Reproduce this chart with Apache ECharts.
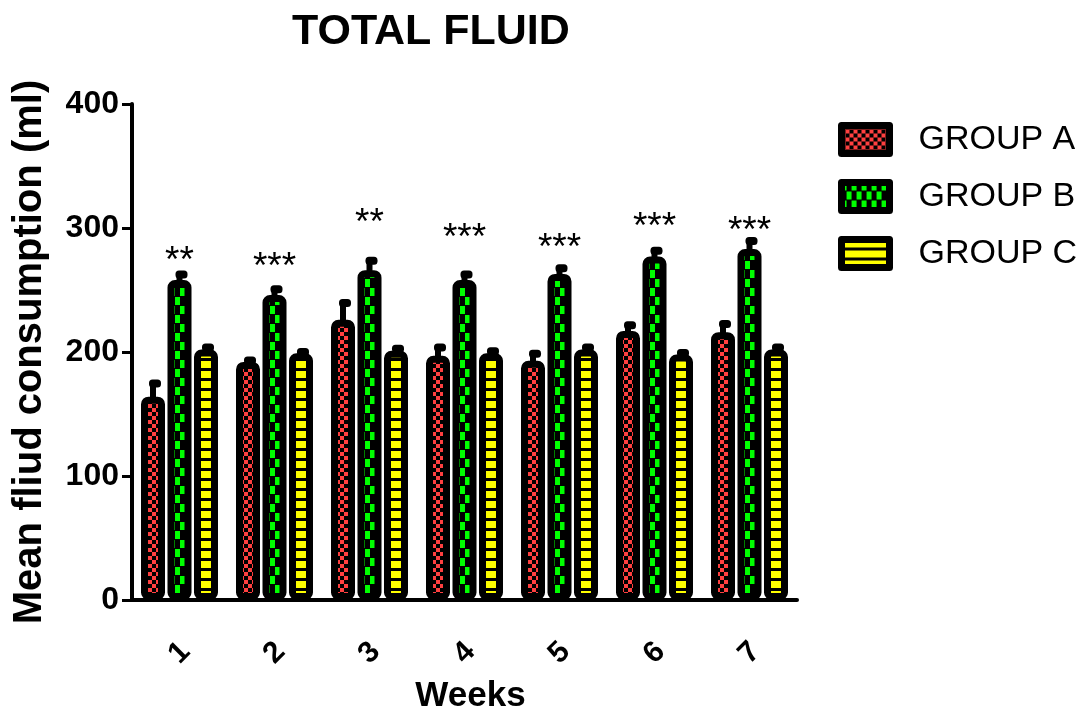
<!DOCTYPE html>
<html><head><meta charset="utf-8">
<script src="https://cdn.jsdelivr.net/npm/echarts@6/dist/echarts.min.js"></script>
<style>html,body{margin:0;padding:0;background:#fff}#c{width:1087px;height:719px}</style>
</head><body><div id="c"></div>
<script>
const weeks = ['1','2','3','4','5','6','7'];
const groupNames = ['GROUP A','GROUP B','GROUP C'];
const groupA = [164,192,226,197,193,217,216];
const groupB = [258,246,266,258,263,277,283];
const groupC = [202,199,201,199,202,198,202];
const errA = [11,1.5,14,7,6,5,7];
const errB = [5,5,8,5,5,5,7];
const errC = [2,1.5,2,2,2,1.5,2];
const sigLabels = ['**','***','**','***','***','***','***'];
const sigLevel = [279,274,310,298,290,307,303];

const FONT = '"Liberation Sans", Arial, sans-serif';
const BAR_W = 24, BAR_GAP = 0.104, BORDER = 7;

function makePattern(kind){
  const c = document.createElement('canvas');
  let w, h;
  if (kind === 'A') { w = 8; h = 8; }
  else if (kind === 'B') { w = 10; h = 18; }
  else { w = 4; h = 10; }
  c.width = w; c.height = h;
  const g = c.getContext('2d');
  g.fillStyle = '#000'; g.fillRect(0,0,w,h);
  if (kind === 'A') {
    g.fillStyle = '#ff4040';
    g.fillRect(0,0,4,4); g.fillRect(4,4,4,4);
  } else if (kind === 'B') {
    g.fillStyle = '#00ff00';
    g.fillRect(0,0,5,8); g.fillRect(5,9,5,8);
  } else {
    g.fillStyle = '#ffff00';
    g.fillRect(0,1,4,7);
  }
  return { image: c, repeat: 'repeat' };
}
const patterns = [makePattern('A'), makePattern('B'), makePattern('C')];
const values = [groupA, groupB, groupC];
const errors = [errA, errB, errC];

const chart = echarts.init(document.getElementById('c'), null, {renderer: 'canvas'});

const series = [];
groupNames.forEach((name, s) => {
  series.push({
    name: name, type: 'bar', data: values[s],
    barWidth: BAR_W, barGap: (BAR_GAP*100) + '%',
    itemStyle: { color: patterns[s], borderColor: '#000', borderWidth: BORDER, borderRadius: 4 },
    emphasis: { disabled: true }
  });
});
groupNames.forEach((name, s) => {
  const off = (s - 1) * BAR_W * (1 + BAR_GAP);
  series.push({
    name: 'err' + s, type: 'custom', silent: true,
    data: values[s].map((v, i) => [i, v, errors[s][i]]),
    encode: { x: 0, y: 1 },
    renderItem: function(params, api){
      const i = api.value(0), v = api.value(1), e = api.value(2);
      const base = api.coord([i, v]);
      const top = api.coord([i, v + e]);
      const x = base[0] + off;
      return { type: 'group', children: [
        { type: 'rect', shape: { x: x - 3, y: top[1], width: 6, height: base[1] - top[1] + 3 }, style: { fill: '#000' } },
        { type: 'rect', shape: { x: x - 4, y: top[1] - 3.5, width: 12, height: 8, r: 3.5 }, style: { fill: '#000' } }
      ]};
    },
    z: 3
  });
});
series.push({
  name: 'sig', type: 'custom', silent: true,
  data: sigLevel.map((v, i) => [i, v, sigLabels[i]]),
  encode: { x: 0, y: 1 },
  renderItem: function(params, api){
    const p = api.coord([api.value(0), api.value(1)]);
    return { type: 'text', x: p[0], y: p[1] + 8, style: {
      text: sigLabels[params.dataIndex], fill: '#000', font: '37px ' + FONT,
      align: 'center', verticalAlign: 'middle', textAlign: 'center', textVerticalAlign: 'middle'
    }};
  },
  z: 4
});

chart.setOption({
  animation: false,
  backgroundColor: '#fff',
  title: { text: 'TOTAL FLUID', left: 287, top: 6,
    textStyle: { fontFamily: FONT, fontWeight: 'bold', fontSize: 43, color: '#000' } },
  legend: {
    data: groupNames, orient: 'vertical', left: 838, top: 122, padding: 0,
    itemWidth: 48, itemHeight: 28, itemGap: 22, icon: 'rect',
    itemStyle: { borderWidth: BORDER, borderColor: '#000', borderJoin: 'round' },
    textStyle: { fontFamily: FONT, fontSize: 34, color: '#000', padding: [0,0,0,24] },
    selectedMode: false
  },
  grid: { left: 132, right: 290, top: 104, bottom: 117, containLabel: false },
  xAxis: {
    type: 'category', data: weeks,
    name: 'Weeks', nameLocation: 'middle', nameGap: 79,
    nameTextStyle: { fontFamily: FONT, fontWeight: 'bold', fontSize: 35, color: '#000', padding: [0,0,0,12] },
    axisLine: { lineStyle: { color: '#000', width: 4 } },
    axisTick: { alignWithLabel: true, length: 10, lineStyle: { color: '#000', width: 3 } },
    axisLabel: { rotate: 45, align: 'center', verticalAlign: 'middle', margin: 53,
      fontFamily: FONT, fontWeight: 'bold', fontSize: 30, color: '#000' },
    splitLine: { show: false }
  },
  yAxis: {
    type: 'value', min: 0, max: 400, interval: 100,
    name: 'Mean fliud consumption (ml)', nameLocation: 'middle', nameGap: 82,
    nameTextStyle: { fontFamily: FONT, fontWeight: 'bold', fontSize: 40, color: '#000' },
    axisLine: { show: true, lineStyle: { color: '#000', width: 4 } },
    axisTick: { show: true, length: 10, lineStyle: { color: '#000', width: 3 } },
    axisLabel: { margin: 13, fontFamily: FONT, fontWeight: 'bold', fontSize: 32, color: '#000' },
    splitLine: { show: false }
  },
  series: series
});
</script></body></html>
